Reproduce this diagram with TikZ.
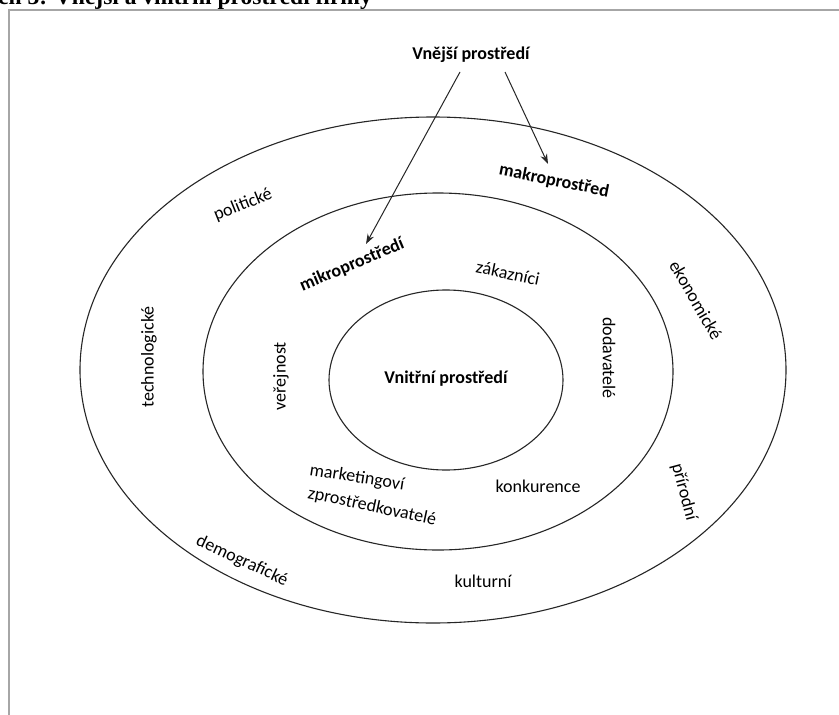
\documentclass[tikz,border=0pt]{standalone}
\usepackage{fontspec}
\setmainfont{Carlito}
\newfontfamily\headfont{Liberation Serif}
\usetikzlibrary{arrows.meta}
\begin{document}
\begin{tikzpicture}[x=1pt,y=-1pt,
  ring/.style={draw=black!85,line width=1.1pt},
  lbl/.style={font=\fontsize{18}{20}\selectfont,inner sep=1pt},
  blbl/.style={font=\fontsize{18}{20}\selectfont\bfseries,inner sep=1pt},
  arr/.style={draw=black!85,line width=1pt,-{Stealth[length=10pt,width=7pt]}},
  frame/.style={draw=black!35,line width=2pt}]
\useasboundingbox (0,0) rectangle (839,715);
\fill[white] (0,0) rectangle (839,715);
% header (cut off)
\begin{scope}
\clip (0,0) rectangle (839,715);
\node[anchor=base west,inner sep=0pt,font=\headfont\fontsize{23.5}{26}\selectfont\bfseries] (head) at (-2,4) {ch 3: Vnější a vnitřní prostředí firmy};
\end{scope}
% frame
\draw[frame] (8.5,715) -- (8.5,10) -- (839,10);
% rings
\draw[ring] (433,370) ellipse [x radius=353pt, y radius=253pt];
\draw[ring] (438,371.5) ellipse [x radius=235pt, y radius=178.5pt];
\draw[ring] (446,380) ellipse [x radius=117pt, y radius=90pt];
% labels
\node[blbl] (vnejsi) at (471,55) {Vnější prostředí};
\node[blbl,rotate=-11.5] (makro) at (554,181) {makroprostřed};
\node[blbl,rotate=23] (mikro) at (352,265) {mikroprostředí};
\node[lbl,rotate=22] (polit) at (243,205) {politické};
\node[lbl,rotate=-12] (zak) at (508,273) {zákazníci};
\node[lbl,rotate=-60] (eko) at (696,300) {ekonomické};
\node[lbl,rotate=-90] (dod) at (609,358) {dodavatelé};
\node[lbl,rotate=-75] (prir) at (684,492) {přírodní};
\node[lbl,rotate=90] (tech) at (149,357) {technologické};
\node[lbl,rotate=90] (ver) at (281,376) {veřejnost};
\node[blbl] (vnitrni) at (446,379) {Vnitřní prostředí};
\node[lbl,rotate=-9] (mark) at (357,478) {marketingoví};
\node[lbl,rotate=-12] (zpro) at (372,507) {zprostředkovatelé};
\node[lbl] (konk) at (538,486) {konkurence};
\node[lbl,rotate=-25] (demo) at (242,561) {demografické};
\node[lbl] (kult) at (483,581) {kulturní};
% arrows
\coordinate (s1) at (460,72);
\coordinate (t1) at (366,244);
\coordinate (s2) at (505,72);
\coordinate (t2) at (548,164);
\draw[arr] (s1) -- (t1);
\draw[arr] (s2) -- (t2);
\end{tikzpicture}
\end{document}
